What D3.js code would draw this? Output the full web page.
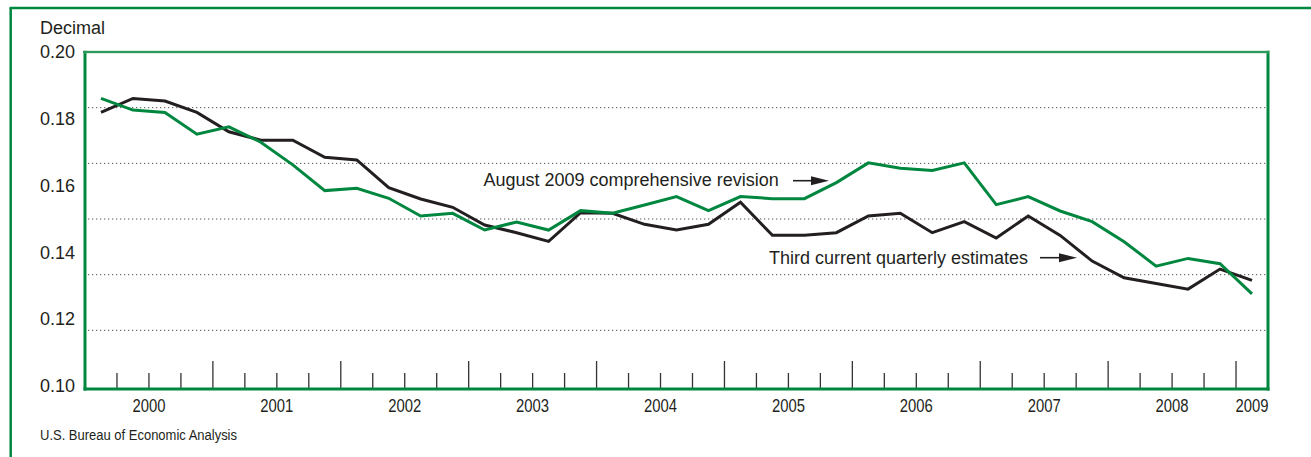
<!DOCTYPE html>
<html>
<head>
<meta charset="utf-8">
<script src="https://cdn.jsdelivr.net/npm/d3@7"></script>
<style>
  html, body { margin: 0; padding: 0; background: #fff; }
  svg { display: block; }
  text { font-family: "Liberation Sans", Arial, sans-serif; fill: #231f20; }
</style>
</head>
<body>
<svg id="chart" width="1311" height="457"></svg>
<script>
// ---------- DATA ----------
const years = ["2000","2001","2002","2003","2004","2005","2006","2007","2008","2009"];
const quartersPerYear = [4,4,4,4,4,4,4,4,4,1];
const yTickLabels = ["0.10","0.12","0.14","0.16","0.18","0.20"];
const yTickValues = [0.10,0.12,0.14,0.16,0.18,0.20];
const gridValues = [0.116667,0.133333,0.15,0.166667,0.183333];
const thirdEstimates = [0.1819,0.1861,0.1853,0.1819,0.1761,0.1736,0.1736,0.1685,0.1677,0.1594,
  0.1560,0.1535,0.1482,0.1459,0.1433,0.1519,0.1517,0.1484,0.1467,0.1484,
  0.1550,0.1451,0.1451,0.1459,0.1509,0.1517,0.1459,0.1492,0.1443,0.1509,
  0.1451,0.1374,0.1324,0.1307,0.1290,0.1350,0.1316];
const comprehensive = [0.1861,0.1826,0.1819,0.1754,0.1776,0.1730,0.1662,0.1585,0.1592,0.1562,
  0.1509,0.1517,0.1467,0.1491,0.1467,0.1525,0.1517,0.1542,0.1567,0.1525,
  0.1567,0.1561,0.1561,0.1609,0.1668,0.1652,0.1645,0.1668,0.1543,0.1567,
  0.1524,0.1492,0.1432,0.1359,0.1382,0.1366,0.1276];
const labelComprehensive = "August 2009 comprehensive revision";
const labelThird = "Third current quarterly estimates";
const yAxisTitle = "Decimal";
const sourceText = "U.S. Bureau of Economic Analysis";

(function () {
// ---------- LAYOUT ----------
const GREEN = "#00873f";
const DARK = "#231f20";
const pLeft = 85, pRight = 1268, pTop = 52, pBottom = 386;
const nQ = d3.sum(quartersPerYear);

const svg = d3.select("#chart");

const x = d3.scaleLinear().domain([0, nQ]).range([pLeft, pRight]);
const y = d3.scaleLinear().domain([0.10, 0.20]).range([pBottom, pTop]);

// outer frame
svg.append("line").attr("x1", 10.7).attr("x2", 10.7).attr("y1", 8).attr("y2", 457)
  .attr("stroke", GREEN).attr("stroke-width", 2.5);
svg.append("line").attr("x1", 9.5).attr("x2", 1311).attr("y1", 8).attr("y2", 8)
  .attr("stroke", GREEN).attr("stroke-width", 2.5);

// gridlines
svg.append("g").selectAll("line").data(gridValues).join("line")
  .attr("x1", pLeft + 3).attr("x2", pRight - 2)
  .attr("y1", d => y(d)).attr("y2", d => y(d))
  .attr("stroke", "#555").attr("stroke-width", 1)
  .attr("stroke-dasharray", "1.3,2.7");

// quarter ticks (upward from baseline)
const baseY = pBottom + 3;
const tickData = d3.range(1, nQ);
let cum = 0;
const yearBounds = new Set();
quartersPerYear.forEach(q => { cum += q; yearBounds.add(cum); });
svg.append("g").selectAll("line").data(tickData).join("line")
  .attr("x1", d => x(d)).attr("x2", d => x(d))
  .attr("y1", baseY).attr("y2", d => yearBounds.has(d) ? baseY - 28 : baseY - 16)
  .attr("stroke", "#333").attr("stroke-width", 1.3);

// y axis labels
const yAxis = d3.axisLeft(y).tickValues(yTickValues)
  .tickFormat((d, i) => yTickLabels[i]).tickSize(0).tickPadding(10);
const gY = svg.append("g").attr("transform", `translate(${pLeft},0)`).call(yAxis);
gY.select(".domain").remove();
gY.selectAll("text").attr("font-size", 18).attr("fill", DARK)
  .attr("font-family", '"Liberation Sans", Arial, sans-serif');

svg.append("text").attr("x", 40).attr("y", 34).attr("font-size", 18).text(yAxisTitle);

// year labels (condensed face emulated)
let start = 0;
const yearPos = quartersPerYear.map(q => { const c = start + q / 2; start += q; return c; });
svg.append("g").selectAll("text").data(years).join("text")
  .attr("x", (d, i) => x(yearPos[i]) - 16.5)
  .attr("y", 411.5)
  .attr("font-size", 17.5)
  .attr("textLength", 33)
  .attr("lengthAdjust", "spacingAndGlyphs")
  .text(d => d);

// source
svg.append("text").attr("x", 40).attr("y", 440)
  .attr("font-size", 15.5)
  .attr("textLength", 197)
  .attr("lengthAdjust", "spacingAndGlyphs")
  .text(sourceText);

// lines
const line = d3.line().x((d, i) => x(i + 0.5)).y(d => y(d));
svg.append("path").datum(thirdEstimates).attr("d", line)
  .attr("fill", "none").attr("stroke", DARK).attr("stroke-width", 3)
  .attr("stroke-linejoin", "miter");
svg.append("path").datum(comprehensive).attr("d", line)
  .attr("fill", "none").attr("stroke", GREEN).attr("stroke-width", 3)
  .attr("stroke-linejoin", "miter");

// plot frame
svg.append("line").attr("x1", pLeft).attr("x2", pLeft).attr("y1", pTop - 1.3).attr("y2", baseY + 1.5)
  .attr("stroke", GREEN).attr("stroke-width", 3);
svg.append("line").attr("x1", pRight).attr("x2", pRight).attr("y1", pTop - 1.3).attr("y2", baseY + 1.5)
  .attr("stroke", GREEN).attr("stroke-width", 3);
svg.append("line").attr("x1", pLeft - 1.5).attr("x2", pRight + 1.5).attr("y1", baseY).attr("y2", baseY)
  .attr("stroke", GREEN).attr("stroke-width", 3);
svg.append("line").attr("x1", pLeft - 1.5).attr("x2", pRight + 1.5).attr("y1", pTop).attr("y2", pTop)
  .attr("stroke", "#5fbf88").attr("stroke-width", 2.6);
svg.append("line").attr("x1", pLeft - 1.5).attr("x2", pRight + 1.5).attr("y1", pTop).attr("y2", pTop)
  .attr("stroke", "#00702f").attr("stroke-width", 2.2).attr("stroke-dasharray", "1,1");

// annotations
function arrow(x1, x2, yy) {
  svg.append("line").attr("x1", x1).attr("x2", x2 - 14).attr("y1", yy).attr("y2", yy)
    .attr("stroke", DARK).attr("stroke-width", 1.6);
  svg.append("path")
    .attr("d", `M${x2},${yy} L${x2 - 18},${yy - 4.5} L${x2 - 18},${yy + 4.5} Z`)
    .attr("fill", DARK);
}
svg.append("text").attr("x", 483.5).attr("y", 185.5).attr("font-size", 18).text(labelComprehensive);
arrow(793, 829, 180.7);
svg.append("text").attr("x", 769).attr("y", 263.5).attr("font-size", 18).text(labelThird);
arrow(1040, 1077, 257.7);
})();
</script>
</body>
</html>
